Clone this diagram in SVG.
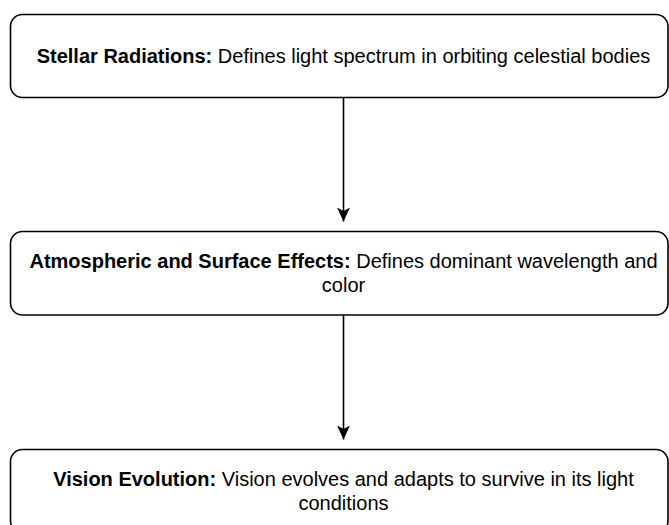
<svg xmlns="http://www.w3.org/2000/svg" width="669" height="525" viewBox="0 0 669 525">
  <style>
    .box { fill: #ffffff; stroke: #000000; stroke-width: 1.6; }
    .txt { font-family: "Liberation Sans", Arial, Helvetica, sans-serif; font-size: 20px; fill: #000000; text-anchor: middle; }
    .b { font-weight: bold; }
    .conn { stroke: #000000; stroke-width: 1.6; fill: none; }
  </style>
  <defs>
    <marker id="arrow" markerUnits="userSpaceOnUse" markerWidth="14" markerHeight="13" refX="14" refY="6.5" orient="auto">
      <path d="M0,0 L14,6.5 L0,13 L3.5,6.5 Z" fill="#000000"/>
    </marker>
  </defs>
  <rect width="669" height="525" fill="#ffffff"/>

  <g id="connectors">
    <line class="conn" x1="343.5" y1="97.5" x2="343.5" y2="221.5" marker-end="url(#arrow)"/>
    <line class="conn" x1="343.5" y1="315" x2="343.5" y2="439.5" marker-end="url(#arrow)"/>
  </g>

  <g id="stellar-radiations">
    <rect class="box" x="10.5" y="14.5" width="657.5" height="83" rx="12" ry="12"/>
    <text class="txt" x="343.5" y="63.3"><tspan class="b">Stellar Radiations:</tspan> Defines light spectrum in orbiting celestial bodies</text>
  </g>

  <g id="atmospheric-surface-effects">
    <rect class="box" x="10.5" y="231.5" width="657.5" height="83.5" rx="12" ry="12"/>
    <text class="txt" x="343.5" y="267.7"><tspan class="b">Atmospheric and Surface Effects:</tspan> Defines dominant wavelength and</text>
    <text class="txt" x="343.5" y="291.7">color</text>
  </g>

  <g id="vision-evolution">
    <rect class="box" x="10.5" y="449.5" width="657.5" height="83.5" rx="12" ry="12"/>
    <text class="txt" x="343.5" y="485.7"><tspan class="b">Vision Evolution:</tspan> Vision evolves and adapts to survive in its light</text>
    <text class="txt" x="343.5" y="509.7">conditions</text>
  </g>
</svg>
